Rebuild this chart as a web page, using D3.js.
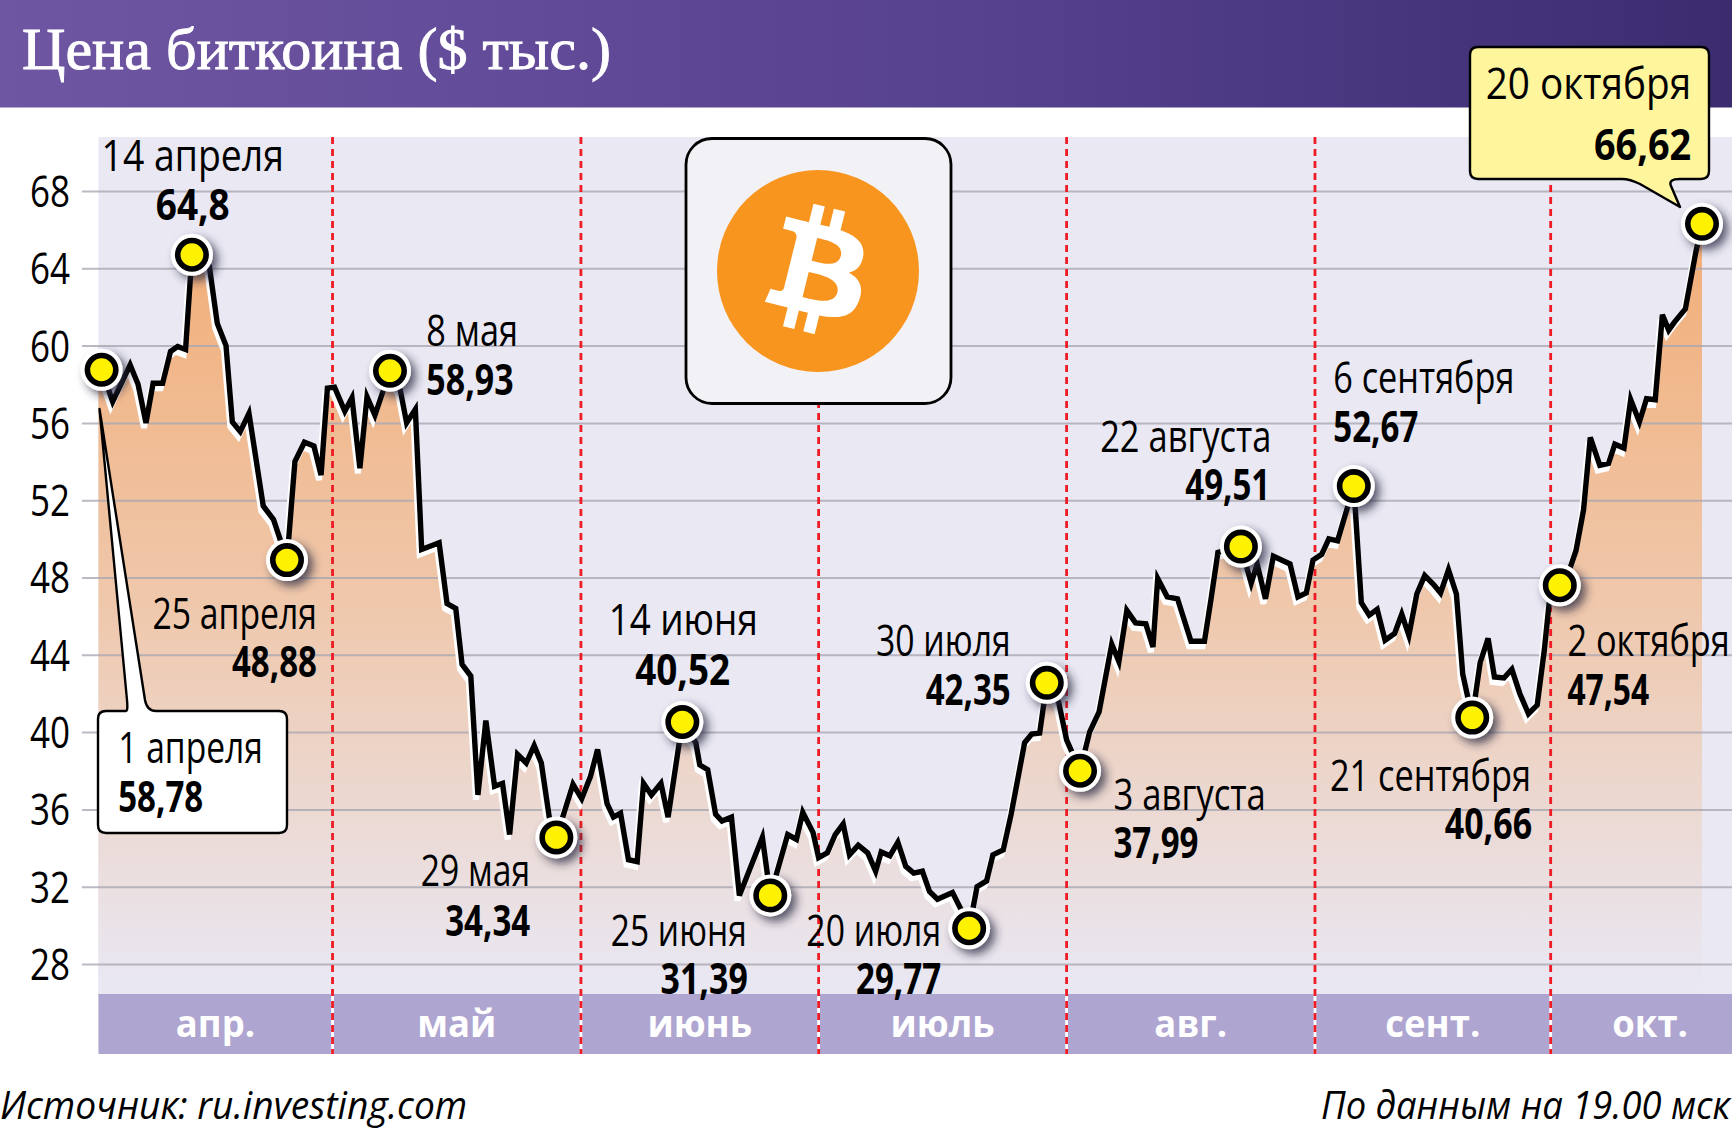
<!DOCTYPE html>
<html>
<head>
<meta charset="utf-8">
<script src="https://cdn.jsdelivr.net/npm/d3@7"></script>
<style>
    html, body { margin: 0; padding: 0; background: #fff; }
    svg { display: block; }
    text { font-family: "Open Sans", "Noto Sans", sans-serif; }
</style>
</head>
<body>
<div id="chart"></div>
<script>
// price line: [day since 1 April, $ thousand]
const aprilLine = [[0,58.75],[1.4,57.1],[3.6,59],[4.6,58],[5.6,56],[6.5,58.05],[7.7,58.05],[8.7,59.7],[9.6,59.95],[10.6,59.8],[11.4,64.7],[13.6,64.1],[14.6,61.15],[15.7,60],[16.5,56.05],[17.5,55.55],[18.6,56.5],[20.4,51.7],[21.7,51],[23.4,48.9],[24.4,54],[25.6,55],[26.8,54.8],[27.7,53.3],[28.5,57.8]]
const mayLine = [[29.4,57.85],[30.7,56.6],[31.6,57.3],[32.6,53.65],[33.5,57.35],[34.5,56.4],[36.4,58.7],[37.7,57.7],[38.5,56],[39.6,56.7],[40.4,49.45],[42.6,49.8],[43.6,46.65],[44.7,46.4],[45.5,43.5],[46.6,42.9],[47.5,36.75],[48.5,40.6],[49.6,37.2],[50.6,37.35],[51.5,34.7],[52.5,38.85],[53.6,38.4],[54.6,39.3],[55.5,38.4],[56.5,35.6],[57.4,34.55],[59.5,37.3]]
const juneLine = [[60.6,36.55],[61.7,37.7],[62.6,39.1],[63.8,36.3],[64.6,35.6],[65.5,35.8],[66.5,33.4],[67.6,33.3],[68.4,37.35],[69.4,36.75],[70.6,37.35],[71.5,35.6],[73.3,40.52],[75,39.45],[75.5,38.3],[76.5,38.05],[77.5,35.75],[78.3,35.4],[79.5,35.6],[80.5,31.55],[83.4,34.55],[84.4,31.55],[86.6,34.7],[87.7,34.45],[88.5,35.85],[89.8,34.8]]
const julyLine = [[90.5,33.5],[91.6,33.75],[92.6,34.7],[93.6,35.25],[94.4,33.65],[95.5,34.15],[96.7,33.75],[97.7,32.8],[98.4,33.8],[99.5,33.6],[100.5,34.3],[101.5,33.05],[102.5,32.7],[103.6,32.8],[104.5,31.75],[105.5,31.35],[107.4,31.7],[108.5,30.8],[109.5,29.85],[110.5,32],[111.7,32.3],[112.5,33.65],[113.8,33.9],[114.8,35.75],[116.5,39.45],[117.4,39.9],[118.4,39.95],[119.3,42.55],[120.8,41.55]]
const augustLine = [[121.8,39.6],[123.5,38],[124.7,40],[125.9,41.05],[127.5,44.55],[128.4,43.65],[129.4,46.3],[130.5,45.65],[131.8,45.6],[132.7,44.4],[133.3,47.95],[134.5,47],[135.8,46.9],[137.5,44.7],[139.2,44.7],[140,46.8],[140.9,49.3],[143.8,49.6],[145.1,47.7],[145.85,48.7],[146.9,46.9],[147.9,49.1],[150,48.7],[151,47],[152.05,47.2],[152.9,48.9]]
const septemberLine = [[154,49.2],[154.9,50],[156,49.9],[158.05,52.73],[159,46.7],[160,46.05],[161,46.35],[162,44.75],[163.2,45.1],[164.1,46.1],[165,45],[166,47.15],[167,48.1],[168.1,47.65],[169,47.2],[170,48.4],[171,47.15],[171.8,43],[173,40.75],[174,43.6],[175,44.85],[175.8,42.85],[177,42.8],[178,43.25],[179,42],[180.1,40.95],[181.2,41.4],[182.1,44.25]]
const octoberLine = [[182.7,46.65],[184.05,47.6],[185.4,48.55],[186.1,49.4],[187.05,51.5],[187.9,55.25],[189.1,53.8],[190.2,53.9],[191,54.9],[192.15,54.7],[193,57.2],[194.1,56.05],[195,57.25],[196.1,57.2],[197,61.6],[197.8,60.8],[198.5,61.2],[199.9,61.9],[201.2,64.8],[202,66.3]]

const yTicks = [28, 32, 36, 40, 44, 48, 52, 56, 60, 64, 68]
const months = ["апр.", "май", "июнь", "июль", "авг.", "сент.", "окт."]
const monthEdges = [-0.4, 29.15, 60.5, 90.5, 121.8, 153.15, 182.9, 208]

const markerDates = ["1 апреля", "14 апреля", "25 апреля", "8 мая", "29 мая", "14 июня", "25 июня", "20 июля", "30 июля", "3 августа", "22 августа", "6 сентября", "21 сентября", "2 октября", "20 октября"]
const markerLabels = ["58,78", "64,8", "48,88", "58,93", "34,34", "40,52", "31,39", "29,77", "42,35", "37,99", "49,51", "52,67", "40,66", "47,54", "66,62"]
const markerDays = [0, 11.4, 23.4, 36.4, 57.4, 73.3, 84.4, 109.5, 119.3, 123.5, 143.8, 158.05, 173, 184.05, 202]
const markerPrices = [58.75, 64.7, 48.9, 58.7, 34.55, 40.52, 31.55, 29.85, 42.55, 38, 49.6, 52.73, 40.75, 47.6, 66.3]

// label placement, measured on a 1568 wide view of the picture
// date: left, right, baseline; value: left, right, baseline
const labelBoxes = [
    [107, 238, 691, 107, 184, 735],
    [92, 257, 155, 141, 208, 199],
    [138, 287, 569, 210, 287, 613],
    [386, 469, 313, 386, 465, 358],
    [381, 480, 802, 403, 480, 847],
    [551, 686, 575, 575, 661, 620],
    [553, 676, 856, 598, 677, 900],
    [730, 852, 856, 775, 852, 900],
    [793, 915, 594, 838, 915, 638],
    [1008, 1146, 733, 1008, 1085, 777],
    [996, 1151, 409, 1073, 1150, 453],
    [1207, 1371, 356, 1207, 1284, 400],
    [1204, 1386, 716, 1308, 1387, 760],
    [1419, 1566, 594, 1419, 1493, 638],
    [1345, 1531, 90, 1443, 1531, 145]
]

const width = 1732
const height = 1131
const k = width / 1568

const x = d3.scaleLinear().domain([0, 202]).range([101.6, 1702])
const y = d3.scaleLinear().domain([28, 68]).range([964, 191])

const priceLine = [...aprilLine, ...mayLine, ...juneLine, ...julyLine, ...augustLine, ...septemberLine, ...octoberLine]

const svg = d3.select("#chart").append("svg")
    .attr("width", width)
    .attr("height", height)
    .style("background", "#fff")

const defs = svg.append("defs")

const headGrad = defs.append("linearGradient").attr("id", "headGrad")
headGrad.append("stop").attr("offset", "0").attr("stop-color", "#6f56a2")
headGrad.append("stop").attr("offset", "0.55").attr("stop-color", "#574290")
headGrad.append("stop").attr("offset", "1").attr("stop-color", "#3b2c70")

const fillGrad = defs.append("linearGradient").attr("id", "fillGrad")
    .attr("gradientUnits", "userSpaceOnUse")
    .attr("x1", 0).attr("x2", 0).attr("y1", 230).attr("y2", 975)
fillGrad.append("stop").attr("offset", "0").attr("stop-color", "#f2ae78")
fillGrad.append("stop").attr("offset", "0.5").attr("stop-color", "#efc8ac")
fillGrad.append("stop").attr("offset", "1").attr("stop-color", "#e9e7f2")

defs.append("filter").attr("id", "dotShadow")
    .attr("x", "-60%").attr("y", "-60%").attr("width", "240%").attr("height", "240%")
    .append("feDropShadow")
    .attr("dx", 5).attr("dy", 5).attr("stdDeviation", 5)
    .attr("flood-color", "#2a2740").attr("flood-opacity", 0.75)

// condensed look: squeeze the text into the width it has in the picture
function putText(parent, left, right, base, str, size, weight) {
    return parent.append("text")
        .attr("x", left)
        .attr("y", base)
        .attr("textLength", right - left)
        .attr("lengthAdjust", "spacingAndGlyphs")
        .attr("font-size", size)
        .attr("font-weight", weight)
        .attr("fill", "#000")
        .text(str)
}

//  HEADER  ///////////////////////////////////////////////////
svg.append("rect")
    .attr("width", width).attr("height", 107.5)
    .attr("fill", "url(#headGrad)")
putText(svg, 22, 611, 69, "Цена биткоина ($ тыс.)", 59, 400)
    .attr("fill", "#fff")
    .attr("stroke", "#fff")
    .attr("stroke-width", 0.9)
    .style("font-family", '"Liberation Serif", serif')

//  PANEL  ////////////////////////////////////////////////////
svg.append("rect")
    .attr("x", x(monthEdges[0])).attr("y", 137)
    .attr("width", width - x(monthEdges[0])).attr("height", 858)
    .attr("fill", "#e9e8f3")

const area = d3.area().x(d => x(d[0])).y0(994).y1(d => y(d[1]))
svg.append("path")
    .datum([[monthEdges[0], priceLine[0][1]], ...priceLine])
    .attr("d", area)
    .attr("transform", "translate(0,5)")
    .attr("fill", "url(#fillGrad)")

const axis = svg.append("g")
    .attr("transform", `translate(${x(monthEdges[0])},0)`)
    .call(d3.axisLeft(y).tickValues(yTicks).tickSize(0).tickPadding(28))
axis.select(".domain").remove()
axis.selectAll(".tick line")
    .attr("x1", 82 - x(monthEdges[0]))
    .attr("x2", width - x(monthEdges[0]))
    .attr("stroke", "#aaa8b2")
    .attr("stroke-opacity", 0.8)
    .attr("stroke-width", 2)
axis.selectAll(".tick text")
    .attr("x", 70 - x(monthEdges[0]))
    .attr("dy", "0.36em")
    .attr("font-size", 43)
    .attr("textLength", 40)
    .attr("lengthAdjust", "spacingAndGlyphs")
    .attr("fill", "#000")

//  MONTH BAND  ///////////////////////////////////////////////
svg.append("rect")
    .attr("x", x(monthEdges[0])).attr("y", 994)
    .attr("width", width - x(monthEdges[0])).attr("height", 60)
    .attr("fill", "#aea5d0")
svg.selectAll(".month").data(months).join("text")
    .attr("class", "month")
    .attr("x", (d, i) => (x(monthEdges[i]) + x(monthEdges[i + 1])) / 2)
    .attr("y", 1037)
    .attr("text-anchor", "middle")
    .attr("font-size", 38)
    .attr("font-weight", 700)
    .attr("fill", "#fff")
    .attr("transform", (d, i) => {
        const cx = (x(monthEdges[i]) + x(monthEdges[i + 1])) / 2
        return `translate(${cx},0) scale(0.96,1) translate(${-cx},0)`
    })
    .text(d => d)

//  MONTH DIVIDERS  ///////////////////////////////////////////
const dividers = monthEdges.slice(1, -1)
svg.selectAll(".gap").data(dividers).join("line")
    .attr("class", "gap")
    .attr("x1", d => x(d)).attr("x2", d => x(d))
    .attr("y1", 994).attr("y2", 1054)
    .attr("stroke", "#fff").attr("stroke-width", 2.8)
svg.selectAll(".divider").data(dividers).join("line")
    .attr("class", "divider")
    .attr("x1", d => x(d)).attr("x2", d => x(d))
    .attr("y1", 137).attr("y2", 1054)
    .attr("stroke", "#ee1c25")
    .attr("stroke-width", 2.8)
    .attr("stroke-dasharray", "7 5")

//  PRICE LINE  ///////////////////////////////////////////////
const line = d3.line().x(d => x(d[0])).y(d => y(d[1]))
svg.append("path")
    .datum(priceLine)
    .attr("d", line)
    .attr("transform", "translate(-2,5)")
    .attr("fill", "none")
    .attr("stroke", "#fff")
    .attr("stroke-width", 6)
svg.append("path")
    .datum(priceLine)
    .attr("d", line)
    .attr("fill", "none")
    .attr("stroke", "#000")
    .attr("stroke-width", 5.4)

//  BITCOIN BADGE  ////////////////////////////////////////////
svg.append("rect")
    .attr("x", 686).attr("y", 138.5)
    .attr("width", 265).attr("height", 265)
    .attr("rx", 26)
    .attr("fill", "#f2f2f6")
    .attr("stroke", "#000")
    .attr("stroke-width", 2.8)
svg.append("circle")
    .attr("cx", 818).attr("cy", 271).attr("r", 101)
    .attr("fill", "#f7951f")
svg.append("path")
    .attr("transform", "translate(819.4,272.9) scale(3.22) translate(-32.5,-32)")
    .attr("fill", "#fff")
    .attr("fill-rule", "evenodd")
    .attr("d", "M46.1027 26.8016c.6372-4.2588-2.6055-6.5479-7.0385-8.0748l1.4384-5.7694-3.5108-.8752-1.4003 5.6175c-.9229-.2301-1.8708-.4471-2.8127-.6621l1.4103-5.6546-3.5088-.8751-1.4384 5.7673c-.7638-.1739-1.5147-.3458-2.2425-.5268l.004-.0181-4.8407-1.2088-.9338 3.7498s2.6044.5969 2.5494.6338c1.4215.3548 1.6785 1.2957 1.6355 2.0415l-1.6374 6.5689c.0979.0249.2248.0609.3648.1169-.1171-.029-.2418-.0609-.3709-.0919l-2.2955 9.2022c-.1738.4318-.6146 1.0797-1.6085.8338.035.051-2.5514-.6368-2.5514-.6368l-1.7428 4.0197 4.5678 1.1388c.8498.2131 1.6825.4361 2.5024.6461l-1.4544 5.8335 3.5086.8751 1.4394-5.7714c.9579.2601 1.8889.4999 2.7998.7259l-1.4344 5.7445 3.5118.8751 1.4524-5.8235c5.9919 1.134 10.4996.6768 12.3927-4.7418 1.5255-4.3628-.0759-6.8794-3.2285-8.5211 2.2946-.5299 4.0232-2.0385 4.4846-5.1547zm-8.0325 11.2636c-1.0838 4.3627-8.4287 2.0045-10.8098 1.4124l1.9287-7.7339c2.3807.5944 10.0173 1.7708 8.8811 6.3215zm1.0869-11.3267c-.9898 3.9688-7.1017 1.9525-9.0853 1.4581l1.7487-7.0145c1.9836.4945 8.3725 1.4167 7.3366 5.5564z")

//  CALLOUTS  /////////////////////////////////////////////////
svg.append("path")
    .attr("d", "M106,711 H126 Q128,711 127,700 L99.5,409 L145,700 Q147,711 156,711 H279 Q287,711 287,719 V825 Q287,833 279,833 H106 Q98,833 98,825 V719 Q98,711 106,711 Z")
    .attr("fill", "#fff")
    .attr("stroke", "#000")
    .attr("stroke-width", 2.4)
    .attr("stroke-linejoin", "round")
svg.append("path")
    .attr("d", "M1478,47 H1701 Q1709,47 1709,55 V171 Q1709,179 1701,179 H1680 Q1668,179 1671,186 L1680,207 L1640,184 Q1630,179 1622,179 H1478 Q1470,179 1470,171 V55 Q1470,47 1478,47 Z")
    .attr("fill", "#fff59d")
    .attr("stroke", "#000")
    .attr("stroke-width", 2.4)
    .attr("stroke-linejoin", "round")

//  MARKERS  //////////////////////////////////////////////////
const dots = svg.selectAll(".dot").data(markerDays).join("g")
    .attr("class", "dot")
    .attr("transform", (d, i) => `translate(${x(d)},${y(markerPrices[i])})`)
dots.append("circle").attr("r", 21).attr("fill", "#fff").attr("filter", "url(#dotShadow)")
dots.append("circle").attr("r", 14.2).attr("fill", "#fff200").attr("stroke", "#000").attr("stroke-width", 5.6)

//  LABELS  ///////////////////////////////////////////////////
labelBoxes.forEach((b, i) => {
    putText(svg, b[0] * k, b[1] * k, b[2] * k, markerDates[i], 43, 400)
    putText(svg, b[3] * k, b[4] * k, b[5] * k, markerLabels[i], 43, 700)
})

//  SOURCE LINE  //////////////////////////////////////////////
putText(svg, 0, 423 * k, 1119, "Источник: ru.investing.com", 38, 400).attr("font-style", "italic")
putText(svg, 1196 * k, 1730, 1119, "По данным на 19.00 мск", 38, 400).attr("font-style", "italic")
</script>
</body>
</html>
